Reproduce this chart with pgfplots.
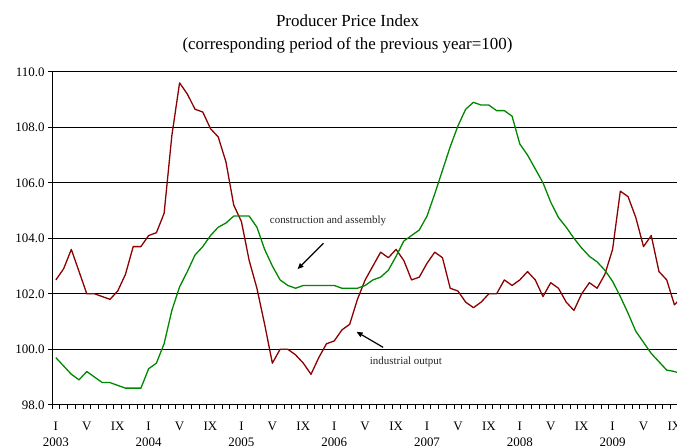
\documentclass[border=0pt]{standalone}
\usepackage{fontspec}
\setmainfont{Liberation Serif}
\usepackage{pgfplots}
\pgfplotsset{compat=1.18}
\usetikzlibrary{arrows.meta}
\definecolor{indred}{RGB}{139,0,0}
\definecolor{congreen}{RGB}{0,135,0}
\begin{document}
\begin{tikzpicture}[x=1bp,y=1bp]
\begin{axis}[
  at={(0,0)}, anchor=south west,
  scale only axis, width=649.5bp, height=333bp,
  xmin=-0.5, xmax=83.5, ymin=98, ymax=110,
  axis x line*=bottom, axis y line*=left,
  axis line style={black, line width=0.9bp},
  ytick={98,100,...,110},
  yticklabels={98.0,100.0,102.0,104.0,106.0,108.0,110.0},
  ymajorgrids, grid style={black, line width=0.8bp},
  xtick={-0.5,0.5,...,83.5}, xticklabels={},
  extra x ticks={0,4,...,80},
  extra x tick labels={I\\2003,V,IX,I\\2004,V,IX,I\\2005,V,IX,I\\2006,V,IX,I\\2007,V,IX,I\\2008,V,IX,I\\2009,V,IX},
  extra x tick style={major tick length=0pt},
  tick align=outside, major tick length=4bp,
  tick style={black, line width=0.8bp},
  tick label style={font=\fontsize{13}{16}\selectfont},
  xticklabel style={align=center, yshift=-14bp},
  clip=true,
]
\addplot[indred, line width=1.3bp, line join=round] coordinates {
(0,102.5)(1,102.9)(2,103.6)(3,102.8)(4,102.0)(5,102.0)(6,101.9)(7,101.8)(8,102.1)(9,102.7)(10,103.7)(11,103.7)
(12,104.1)(13,104.2)(14,104.9)(15,107.7)(16,109.6)(17,109.2)(18,108.65)(19,108.55)(20,107.95)(21,107.65)(22,106.75)(23,105.2)
(24,104.6)(25,103.2)(26,102.2)(27,100.9)(28,99.5)(29,100.0)(30,100.0)(31,99.8)(32,99.5)(33,99.1)(34,99.7)(35,100.2)
(36,100.3)(37,100.7)(38,100.9)(39,101.8)(40,102.5)(41,103.0)(42,103.5)(43,103.3)(44,103.6)(45,103.2)(46,102.5)(47,102.6)
(48,103.1)(49,103.5)(50,103.3)(51,102.2)(52,102.1)(53,101.7)(54,101.5)(55,101.7)(56,102.0)(57,102.0)(58,102.5)(59,102.3)
(60,102.5)(61,102.8)(62,102.5)(63,101.9)(64,102.4)(65,102.2)(66,101.7)(67,101.4)(68,102.0)(69,102.4)(70,102.2)(71,102.7)
(72,103.6)(73,105.7)(74,105.5)(75,104.75)(76,103.7)(77,104.1)(78,102.8)(79,102.5)(80,101.6)(81,101.9)
};
\addplot[congreen, line width=1.3bp, line join=round] coordinates {
(0,99.7)(1,99.4)(2,99.1)(3,98.9)(4,99.2)(5,99.0)(6,98.8)(7,98.8)(8,98.7)(9,98.6)(10,98.6)(11,98.6)
(12,99.3)(13,99.5)(14,100.2)(15,101.4)(16,102.25)(17,102.8)(18,103.4)(19,103.7)(20,104.1)(21,104.4)(22,104.55)(23,104.8)
(24,104.8)(25,104.8)(26,104.4)(27,103.6)(28,103.0)(29,102.5)(30,102.3)(31,102.2)(32,102.3)(33,102.3)(34,102.3)(35,102.3)
(36,102.3)(37,102.2)(38,102.2)(39,102.2)(40,102.3)(41,102.5)(42,102.6)(43,102.85)(44,103.35)(45,103.9)(46,104.1)(47,104.3)
(48,104.8)(49,105.6)(50,106.45)(51,107.3)(52,108.05)(53,108.65)(54,108.9)(55,108.8)(56,108.8)(57,108.6)(58,108.6)(59,108.4)
(60,107.4)(61,107.0)(62,106.5)(63,106.0)(64,105.3)(65,104.75)(66,104.4)(67,104.0)(68,103.65)(69,103.35)(70,103.15)(71,102.85)
(72,102.45)(73,101.9)(74,101.3)(75,100.65)(76,100.25)(77,99.85)(78,99.55)(79,99.25)(80,99.2)(81,99.1)
};
\node[font=\fontsize{11}{13}\selectfont, text=black!85] at (axis cs:35.2,104.62) {construction and assembly};
\draw[-{Triangle[length=6bp,width=5bp]}, line width=1.2bp] (axis cs:34.6,103.82) -- (axis cs:31.26,102.89);
\node[font=\fontsize{11}{13}\selectfont, text=black!85] at (axis cs:45.27,99.55) {industrial output};
\draw[-{Triangle[length=6bp,width=5bp]}, line width=1.2bp] (axis cs:42.33,100.07) -- (axis cs:38.89,100.63);
\end{axis}
\node[anchor=base, font=\fontsize{17}{20}\selectfont] at (295.5,378.1) {Producer Price Index};
\node[anchor=base, font=\fontsize{17}{20}\selectfont] at (295.5,355.3) {(corresponding period of the previous year=100)};
\pgfresetboundingbox
\useasboundingbox (-52,-41.2) rectangle (625,404.8);
\end{tikzpicture}
\end{document}
